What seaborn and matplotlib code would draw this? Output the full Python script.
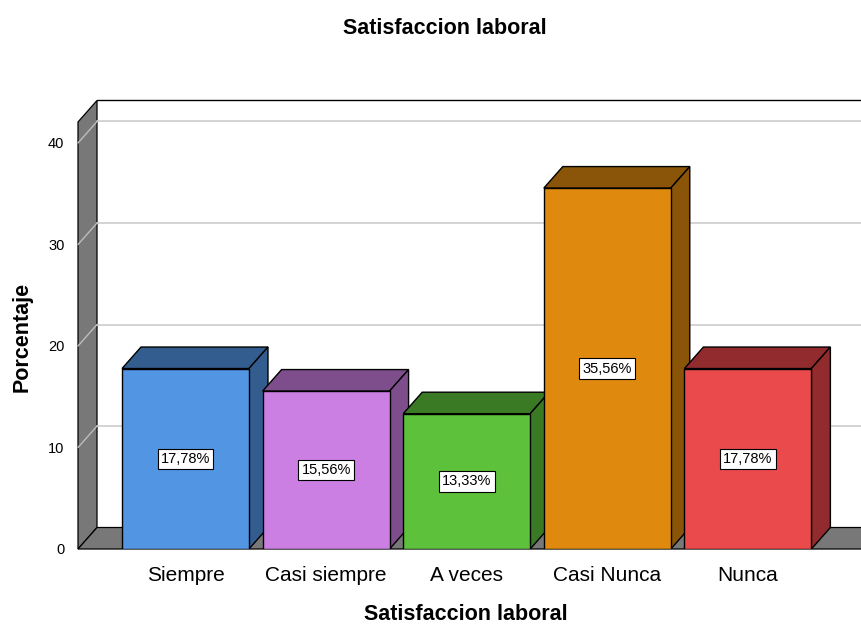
import matplotlib
matplotlib.use("Agg")
import matplotlib.pyplot as plt
import seaborn as sns
import pandas as pd
from matplotlib.patches import Polygon

categories = ["Siempre", "Casi siempre", "A veces", "Casi Nunca", "Nunca"]
percentages = [17.78, 15.56, 13.33, 35.56, 17.78]
value_labels = ["17,78%", "15,56%", "13,33%", "35,56%", "17,78%"]
y_ticks = [0, 10, 20, 30, 40]
front_colors = ["#5295E3", "#CC7FE3", "#5DC13B", "#DF8A0F", "#EB4A4C"]
dark_colors = ["#345D8F", "#7E4E8C", "#3A7A25", "#8A5409", "#922B2E"]

sns.set_theme(style="white")
plt.rcParams['font.family'] = ['Liberation Sans', 'DejaVu Sans']
plt.rcParams['text.color'] = 'black'

W, H = 861, 627
fig = plt.figure(figsize=(W / 100, H / 100), dpi=100)
px_left, px_right, px_bottom, px_top = 77, 861, 549, 101
ax = fig.add_axes([px_left / W, 1 - px_bottom / H,
                   (px_right - px_left) / W, (px_bottom - px_top) / H])

df = pd.DataFrame({"cat": categories, "pct": percentages})
sns.barplot(data=df, x="cat", y="pct", hue="cat", palette=front_colors,
            width=0.903, edgecolor="black", linewidth=1.0, legend=False,
            ax=ax, saturation=1)
bars = list(ax.patches)

# scale
px_per_x = 140.6
px_per_y = 10.15
cx0 = 185.5
xmin = (px_left - cx0) / px_per_x
xmax = (px_right - cx0) / px_per_x
ymax = (px_bottom - px_top) / px_per_y
ax.set_xlim(xmin, xmax)
ax.set_ylim(0, ymax)

dx = 19 / px_per_x
dy = 21.5 / px_per_y
x0 = (78 - cx0) / px_per_x
wall_top = 42.07
xfar = xmax + 1

# wall
ax.add_patch(Polygon([(x0, 0), (x0, wall_top), (x0 + dx, wall_top + dy), (x0 + dx, dy)],
                     closed=True, fc="#787878", ec="black", lw=0.9, zorder=1, clip_on=False))
# floor
ax.add_patch(Polygon([(x0, 0), (xfar, 0), (xfar + dx, dy), (x0 + dx, dy)],
                     closed=True, fc="#787878", ec="black", lw=0.9, zorder=1, clip_on=False))
# back plane border
ax.plot([x0 + dx, xfar], [wall_top + dy, wall_top + dy], color="black", lw=1.0,
        zorder=2, clip_on=False)

# gridlines
for v in y_ticks[1:]:
    ax.plot([x0 + dx, xfar], [v + dy, v + dy], color="#D0D0D0", lw=1.3, zorder=2)
    ax.plot([x0, x0 + dx], [v, v + dy], color="#BDBDBD", lw=1.0, zorder=2, clip_on=False)

# 3D bars
for i, p in enumerate(bars):
    xl = p.get_x()
    w = p.get_width()
    h = p.get_height()
    xr = xl + w
    base = 10 + 3 * i
    ax.add_patch(Polygon([(xl, h), (xr, h), (xr + dx, h + dy), (xl + dx, h + dy)],
                         closed=True, fc=dark_colors[i], ec="black", lw=1.0, zorder=base))
    ax.add_patch(Polygon([(xr, 0), (xr + dx, dy), (xr + dx, h + dy), (xr, h)],
                         closed=True, fc=dark_colors[i], ec="black", lw=1.0, zorder=base))
    p.set_zorder(base + 1)
    ax.text(xl + w / 2, h / 2, value_labels[i], ha="center", va="center",
            fontsize=10.5, color="black", zorder=100,
            bbox=dict(boxstyle="square,pad=0.22", fc="white", ec="black", lw=0.8))

for s in ax.spines.values():
    s.set_visible(False)

ax.set_yticks(y_ticks)
ax.set_yticklabels([str(v) for v in y_ticks])
ax.tick_params(axis="y", length=0, pad=9, labelsize=10.5, colors="black")
ax.tick_params(axis="x", length=0, pad=12, labelsize=15, colors="black")
ax.set_xlabel("")
ax.set_ylabel("")

fig.text(445 / W, 1 - 28 / H, "Satisfaccion laboral", ha="center", va="center",
         fontsize=15.5, fontweight="bold", color="black")
fig.text(466 / W, 1 - 614 / H, "Satisfaccion laboral", ha="center", va="center",
         fontsize=15.5, fontweight="bold", color="black")
fig.text(22 / W, 1 - 337 / H, "Porcentaje", ha="center", va="center",
         fontsize=15.5, fontweight="bold", rotation=90, color="black")

fig.savefig("out.png", dpi=100)
